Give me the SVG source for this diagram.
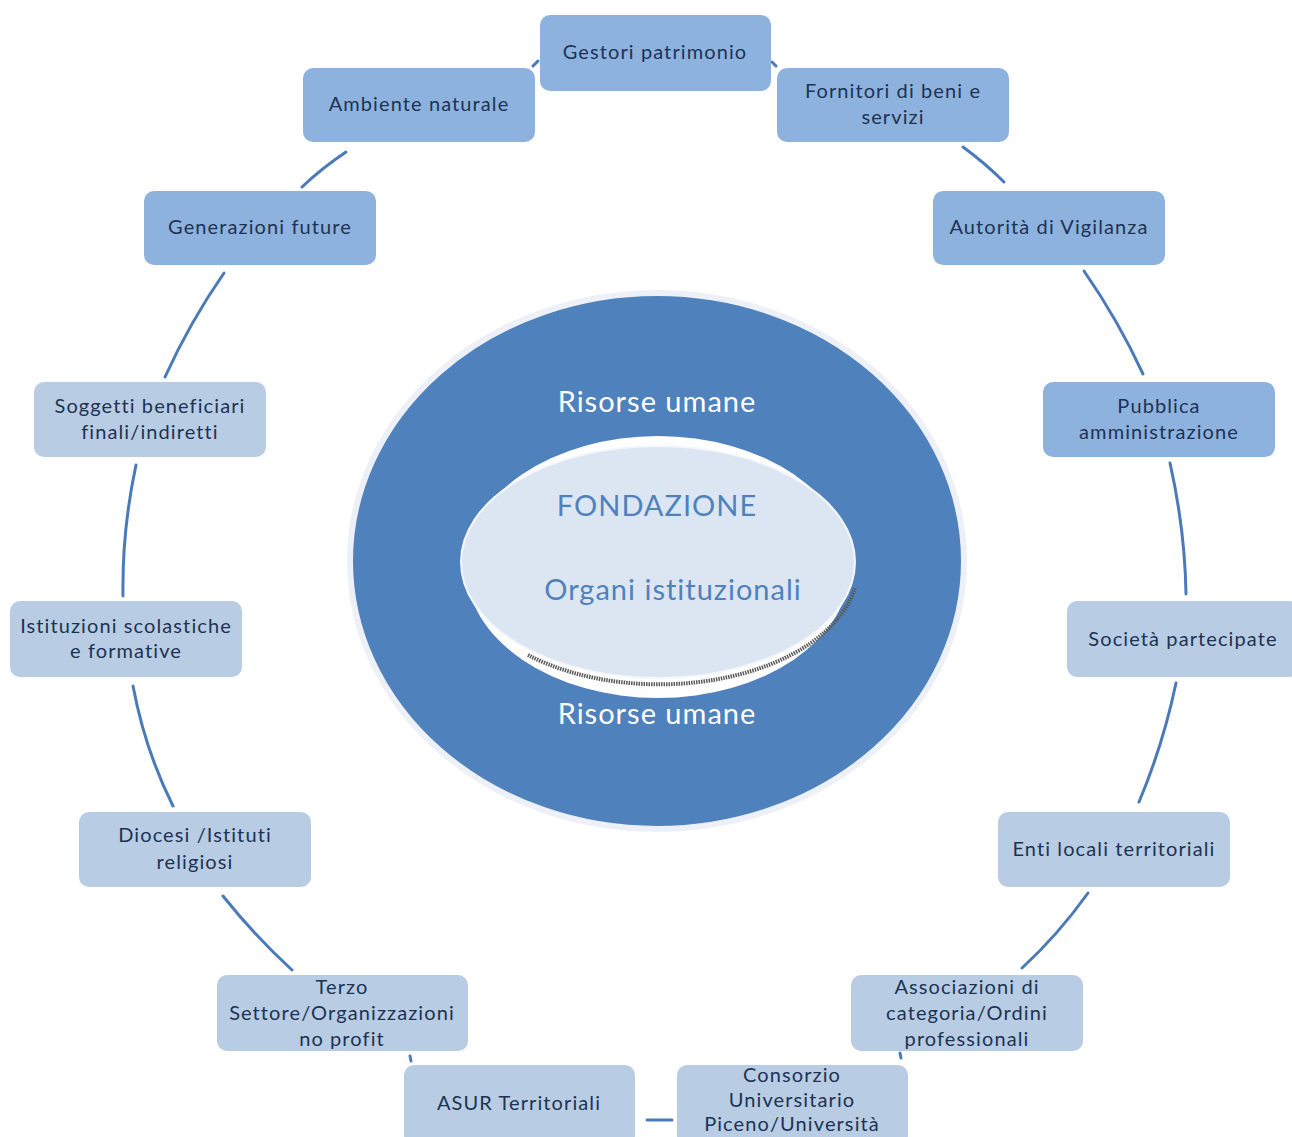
<svg xmlns="http://www.w3.org/2000/svg" width="1292" height="1137" viewBox="0 0 1292 1137">
<style>
.box{stroke:none}
.mid{fill:#8eb2de}
.lt{fill:#b8cce4}
.t{font-family:Lato,"Liberation Sans",sans-serif;font-size:20px;fill:#1d3353;text-anchor:middle;letter-spacing:1.1px}
.big{font-family:Lato,"Liberation Sans",sans-serif;font-size:29px;text-anchor:middle;letter-spacing:1px}
.conn{fill:none;stroke:#4a7ab8;stroke-width:3;stroke-linecap:round}
</style>
<rect width="1292" height="1137" fill="#ffffff"/>
<g id="center">
<ellipse cx="657" cy="561" rx="307" ry="268" fill="#4f81bd" stroke="#edf1f7" stroke-width="6"/>
<ellipse cx="658" cy="567" rx="192" ry="131" fill="#ffffff"/>
<path d="M528,655 A199,118 0 0 0 855,588" fill="none" stroke="#5a5a5a" stroke-width="4" stroke-dasharray="1.5 1"/>
<ellipse cx="658" cy="562" rx="197" ry="116" fill="#dce6f2" stroke="#f4f7fb" stroke-width="2"/>
<text class="big" x="657" y="412" fill="#ffffff">Risorse umane</text>
<text class="big" x="657" y="516" fill="#4f81bd">FONDAZIONE</text>
<text class="big" x="673" y="600" fill="#4f81bd">Organi istituzionali</text>
<text class="big" x="657" y="724" fill="#ffffff">Risorse umane</text>
</g>
<g id="connectors">
<path class="conn" d="M533,66 L538,61" stroke-width="2"/>
<path class="conn" d="M772,62 L776,66" stroke-width="2"/>
<path class="conn" d="M346,152 Q322,168 302,187"/>
<path class="conn" d="M963,147 Q985,163 1004,182"/>
<path class="conn" d="M224,273 Q190,322 165,377"/>
<path class="conn" d="M1084,271 Q1118,320 1143,374"/>
<path class="conn" d="M136,465 Q122,530 123,596"/>
<path class="conn" d="M1170,463 Q1185,530 1186,594"/>
<path class="conn" d="M133,686 Q145,750 173,806"/>
<path class="conn" d="M1176,683 Q1163,745 1139,802"/>
<path class="conn" d="M223,896 Q254,935 292,970"/>
<path class="conn" d="M1088,893 Q1058,935 1022,968"/>
<path class="conn" d="M410,1056 L411,1061" stroke-width="2"/>
<path class="conn" d="M900,1053 L901,1058" stroke-width="2"/>
<path class="conn" d="M647,1120 L672,1120"/>
</g>
<g id="gestori"><rect class="box mid" x="540" y="15" width="231" height="76" rx="10"/><text class="t" x="655" y="59">Gestori patrimonio</text></g>
<g id="ambiente"><rect class="box mid" x="303" y="68" width="232" height="74" rx="10"/><text class="t" x="419" y="111">Ambiente naturale</text></g>
<g id="fornitori"><rect class="box mid" x="777" y="68" width="232" height="74" rx="10"/><text class="t" x="893" y="98">Fornitori di beni e</text><text class="t" x="893" y="124">servizi</text></g>
<g id="generazioni"><rect class="box mid" x="144" y="191" width="232" height="74" rx="10"/><text class="t" x="260" y="234">Generazioni future</text></g>
<g id="autorita"><rect class="box mid" x="933" y="191" width="232" height="74" rx="10"/><text class="t" x="1049" y="234">Autorità di Vigilanza</text></g>
<g id="soggetti"><rect class="box lt" x="34" y="382" width="232" height="75" rx="10"/><text class="t" x="150" y="413">Soggetti beneficiari</text><text class="t" x="150" y="439">finali/indiretti</text></g>
<g id="pubblica"><rect class="box mid" x="1043" y="382" width="232" height="75" rx="10"/><text class="t" x="1159" y="413">Pubblica</text><text class="t" x="1159" y="439">amministrazione</text></g>
<g id="istituzioni"><rect class="box lt" x="10" y="601" width="232" height="76" rx="10"/><text class="t" x="126" y="633">Istituzioni scolastiche</text><text class="t" x="126" y="658">e formative</text></g>
<g id="societa"><rect class="box lt" x="1067" y="601" width="232" height="76" rx="10"/><text class="t" x="1183" y="646">Società partecipate</text></g>
<g id="diocesi"><rect class="box lt" x="79" y="812" width="232" height="75" rx="10"/><text class="t" x="195" y="842">Diocesi /Istituti</text><text class="t" x="195" y="869">religiosi</text></g>
<g id="enti"><rect class="box lt" x="998" y="812" width="232" height="75" rx="10"/><text class="t" x="1114" y="856">Enti locali territoriali</text></g>
<g id="terzo"><rect class="box lt" x="217" y="975" width="251" height="76" rx="10"/><text class="t" x="342" y="994">Terzo</text><text class="t" x="342" y="1020">Settore/Organizzazioni</text><text class="t" x="342" y="1046">no profit</text></g>
<g id="associazioni"><rect class="box lt" x="851" y="975" width="232" height="76" rx="10"/><text class="t" x="967" y="994">Associazioni di</text><text class="t" x="967" y="1020">categoria/Ordini</text><text class="t" x="967" y="1046">professionali</text></g>
<g id="asur"><rect class="box lt" x="404" y="1065" width="231" height="80" rx="10"/><text class="t" x="519" y="1110">ASUR Territoriali</text></g>
<g id="consorzio"><rect class="box lt" x="677" y="1065" width="231" height="80" rx="10"/><text class="t" x="792" y="1082">Consorzio</text><text class="t" x="792" y="1107">Universitario</text><text class="t" x="792" y="1131">Piceno/Università</text></g>
</svg>
